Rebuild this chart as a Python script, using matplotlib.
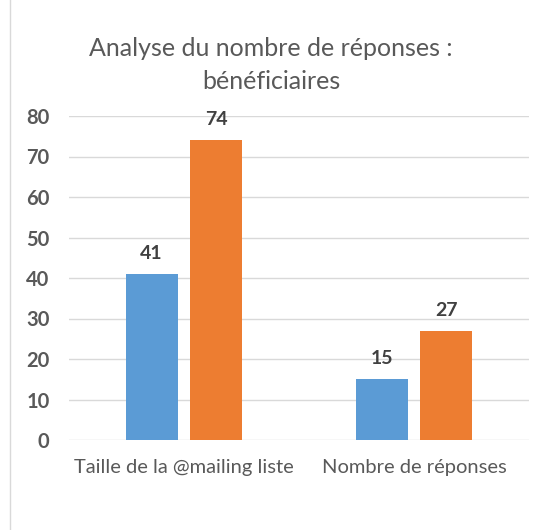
import numpy as np
import matplotlib.pyplot as plt
from matplotlib.patches import Rectangle

# Donnees du graphique
categories = ['Taille de la @mailing liste', 'Nombre de réponses']
serie_bleue = [41, 15]
serie_orange = [74, 27]
graduations = [0, 10, 20, 30, 40, 50, 60, 70, 80]

plt.rcParams['font.family'] = ['Lato', 'DejaVu Sans']

fig = plt.figure(figsize=(5.38, 5.30), dpi=100)
ax = fig.add_axes([69/538, 1 - 440/530, 460/538, 324/530])

x = np.arange(len(categories))
largeur = 0.226
b1 = ax.bar(x - 0.141, serie_bleue, largeur, color='#5b9bd5', zorder=3)
b2 = ax.bar(x + 0.141, serie_orange, largeur, color='#ed7d31', zorder=3)

for barres in (b1, b2):
    for b in barres:
        ax.text(b.get_x() + b.get_width() / 2, b.get_height() + 3, str(int(b.get_height())),
                ha='center', va='bottom', fontsize=14, fontweight='bold', color='#404040')

ax.set_xlim(-0.5, 1.5)
ax.set_ylim(0, 80)
ax.set_yticks(graduations)
ax.set_yticklabels([str(g) for g in graduations], fontsize=14.5, fontweight='bold', color='#595959')
ax.set_xticks(x)
ax.set_xticklabels(categories, fontsize=14.5, color='#595959')
ax.tick_params(axis='both', length=0)
ax.tick_params(axis='y', pad=14)
ax.tick_params(axis='x', pad=14)
ax.grid(axis='y', color='#d9d9d9', linewidth=1, zorder=0)
for s in ax.spines.values():
    s.set_visible(False)

fig.text(271/538, 1 - 65/530, 'Analyse du nombre de réponses :\nbénéficiaires',
         ha='center', va='center', fontsize=18, color='#595959', linespacing=1.5)

# cadre du graphique
fig.patches.append(Rectangle((10/538, -0.01), 1.0, 1.02, transform=fig.transFigure,
                             fill=False, edgecolor='#d9d9d9', linewidth=1))

plt.savefig('out.png', dpi=100)
